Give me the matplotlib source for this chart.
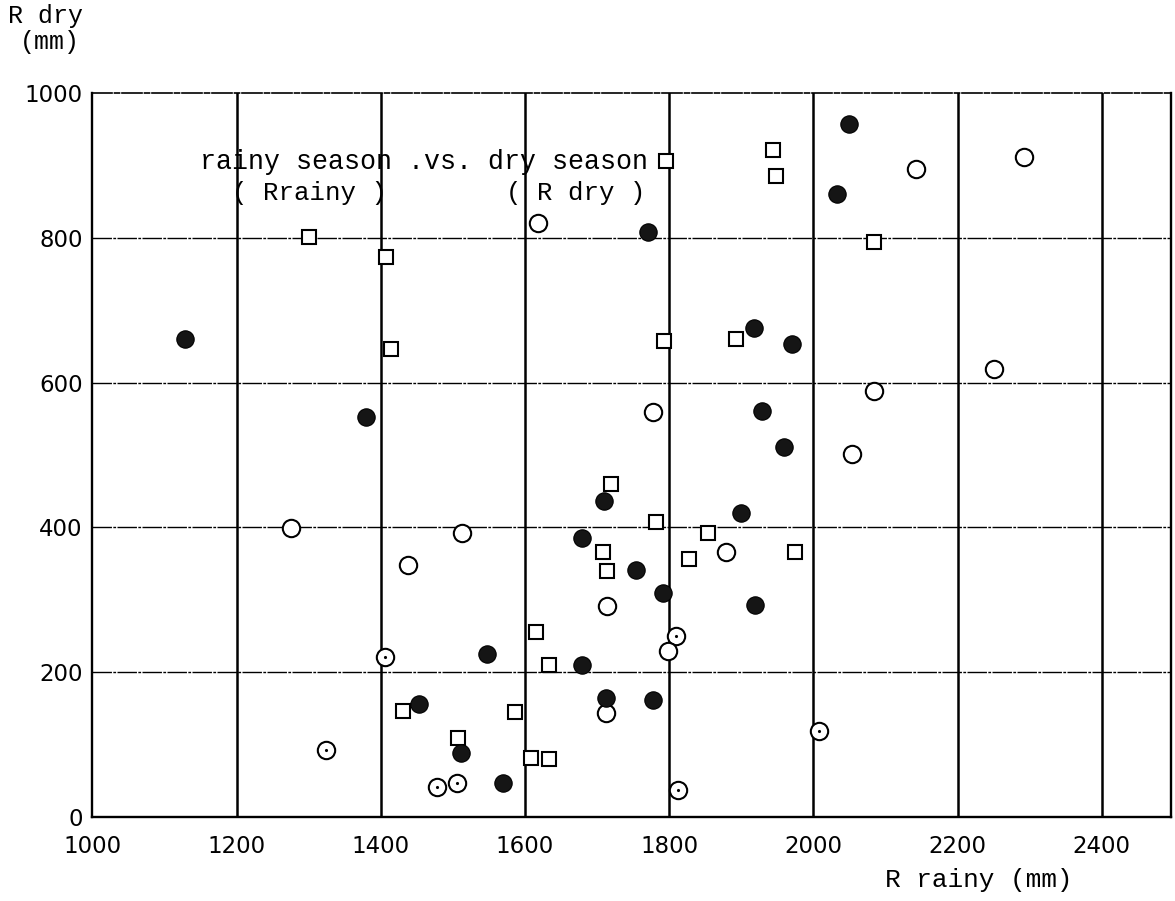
import matplotlib

matplotlib.use("Agg")
import matplotlib.pyplot as plt

# filled circles
filled_x = [1128, 1380, 1453, 1511, 1548, 1570, 1679, 1712, 1778, 1919, 1710,
            1679, 1754, 1792, 1900, 1929, 1959, 2049, 2033, 1970, 1770, 1918]
filled_y = [660, 553, 156, 88, 225, 47, 210, 164, 162, 293, 436,
            385, 341, 309, 420, 561, 511, 957, 861, 654, 808, 676]

# open circles
open_x = [1275, 1512, 1438, 1406, 1324, 1478, 1506, 1712, 1810, 1799, 1812,
          2008, 1714, 1778, 1879, 2053, 2084, 2250, 2142, 2292, 1618]
open_y = [399, 392, 348, 221, 92, 41, 47, 144, 250, 229, 38,
          119, 291, 559, 366, 502, 588, 619, 895, 911, 821]
# open circles that carry a centre dot in the original
dotted_x = [1406, 1324, 1478, 1506, 1810, 1812, 2008]
dotted_y = [221, 92, 41, 47, 250, 38, 119]

# open squares
square_x = [1301, 1407, 1414, 1795, 1944, 1948, 1793, 1892, 2084, 1719, 1782, 1854,
            1708, 1714, 1827, 1975, 1615, 1634, 1586, 1609, 1633, 1431, 1507]
square_y = [801, 774, 646, 906, 921, 885, 657, 660, 794, 460, 407, 392,
            366, 340, 357, 366, 255, 210, 145, 82, 80, 147, 109]

x_ticks = [1000, 1200, 1400, 1600, 1800, 2000, 2200, 2400]
y_ticks = [0, 200, 400, 600, 800, 1000]

MONO = "Liberation Mono"

fig = plt.figure(figsize=(11.75, 9.01), dpi=100)
ax = fig.add_axes([0.0786, 0.0932, 0.9180, 0.8036])
ax.set_xlim(1000, 2496)
ax.set_ylim(0, 1000)

for x in x_ticks[1:]:
    ax.axvline(x, color="black", linewidth=1.8, zorder=1)
for y in y_ticks[1:-1]:
    ax.axhline(y, color="black", linewidth=1.0, linestyle=(0, (14, 1, 2, 1)), zorder=1)

for side in ["left", "right", "bottom"]:
    ax.spines[side].set_linewidth(1.7)
ax.spines["top"].set_linewidth(1.2)
ax.spines["top"].set_linestyle((0, (12, 1.5, 3, 1.5)))

ax.plot(square_x, square_y, "s", markersize=10.5, markerfacecolor="white",
        markeredgecolor="black", markeredgewidth=1.5, zorder=3)
ax.plot(open_x, open_y, "o", markersize=12.5, markerfacecolor="white",
        markeredgecolor="black", markeredgewidth=1.5, zorder=4)
ax.plot(dotted_x, dotted_y, ".", markersize=2.5, color="black", zorder=5)
ax.plot(filled_x, filled_y, "o", markersize=12.5, markerfacecolor="#151515",
        markeredgecolor="black", markeredgewidth=0.8, zorder=5)

ax.set_xticks(x_ticks)
ax.set_yticks(y_ticks)
ax.tick_params(length=0, labelsize=16.5, pad=13)
ax.tick_params(axis="y", pad=7)
for lab in ax.get_xticklabels() + ax.get_yticklabels():
    lab.set_family("DejaVu Sans")

ax.text(1149, 905, "rainy season .vs. dry season", family=MONO, fontsize=19.2,
        ha="left", va="center", zorder=6)
ax.text(1194, 862, "( Rrainy )", family=MONO, fontsize=18.5, ha="left", va="center", zorder=6)
ax.text(1573, 862, "( R dry )", family=MONO, fontsize=18.5, ha="left", va="center", zorder=6)

fig.text(8 / 1175, 1 - 4 / 901, "R dry", family=MONO, fontsize=18, ha="left", va="top")
fig.text(20 / 1175, 1 - 30 / 901, "(mm)", family=MONO, fontsize=18, ha="left", va="top")
fig.text(885 / 1175, 1 - 880 / 901, "R rainy (mm)", family=MONO, fontsize=18.8,
         ha="left", va="center")

fig.savefig("out.png", dpi=100, facecolor="white")
